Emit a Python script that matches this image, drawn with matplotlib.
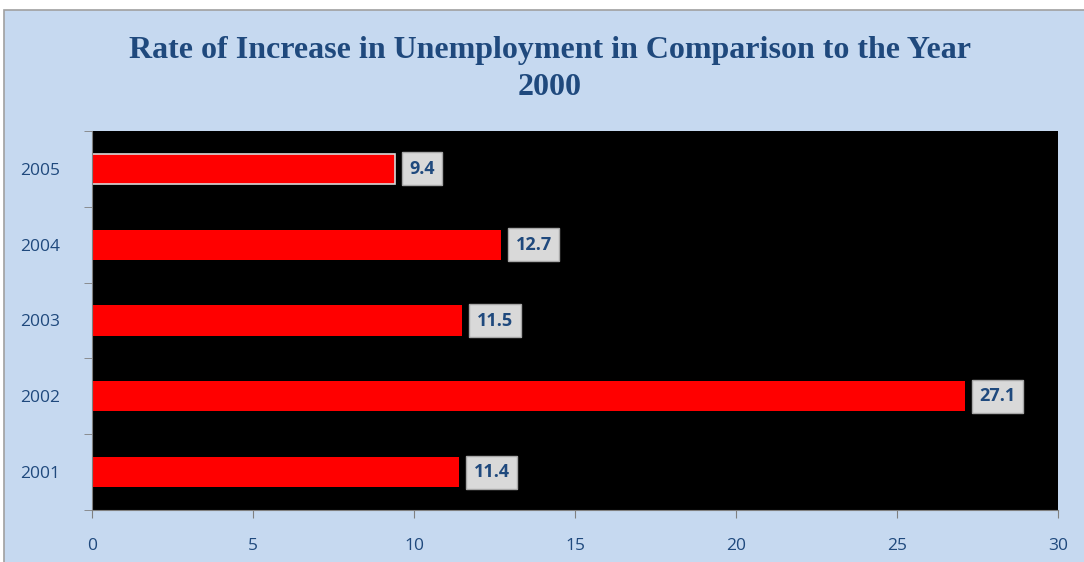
import matplotlib
matplotlib.use("Agg")
import matplotlib.pyplot as plt
from matplotlib.patches import Rectangle
import numpy as np

years = ["2001", "2002", "2003", "2004", "2005"]
values = [11.4, 27.1, 11.5, 12.7, 9.4]
xticks = [0, 5, 10, 15, 20, 25, 30]

W, H = 1084, 562
fig = plt.figure(figsize=(W / 100, H / 100), dpi=100, facecolor="white")
bg = Rectangle((4 / W, -0.01), 1.01, (H - 10) / H + 0.01, transform=fig.transFigure,
               facecolor="#C6D9F0", edgecolor="#A0A0A0", linewidth=1.2, zorder=-10)
fig.patches.append(bg)

ax = fig.add_axes([92 / W, 1 - 510 / H, (1058 - 92) / W, (510 - 131) / H])
ax.set_facecolor("black")
ypos = np.arange(len(years))
bars = ax.barh(ypos, values, height=0.4, color="#FF0000", zorder=2)
bars[-1].set_edgecolor("#D9D9D9")
bars[-1].set_linewidth(1.2)

ax.set_xlim(0, 30)
ax.set_ylim(-0.5, len(years) - 0.5)
ax.set_xticks(xticks)
ax.set_xticklabels([str(t) for t in xticks])
ax.set_yticks(ypos)
ax.set_yticklabels(years)
ax.set_yticks(np.arange(-0.5, len(years), 1.0), minor=True)

tcol = "#1F497D"
ax.tick_params(axis="y", which="major", length=0, pad=23, labelsize=12.5, labelcolor=tcol)
ax.tick_params(axis="y", which="minor", length=6, color="#808080", direction="out")
ax.tick_params(axis="x", which="major", length=6, color="#808080", direction="out",
               pad=14, labelsize=12.5, labelcolor=tcol)
for lab in ax.get_xticklabels() + ax.get_yticklabels():
    lab.set_family(["Open Sans", "DejaVu Sans"])
for side, sp in ax.spines.items():
    sp.set_color("#808080")
ax.spines["top"].set_visible(False)
ax.spines["right"].set_visible(False)

for y, v in zip(ypos, values):
    ax.annotate(f"{v}", xy=(v, y), xytext=(10.5, 0), textcoords="offset points",
                va="center", ha="left", fontsize=13, fontweight="bold", color=tcol,
                family=["Open Sans", "DejaVu Sans"],
                bbox=dict(boxstyle="square,pad=0.42", facecolor="#D9D9D9", edgecolor="#A6A6A6", linewidth=1))

fig.text(0.5 + 8 / W, 1 - 69 / H, "Rate of Increase in Unemployment in Comparison to the Year\n2000",
         ha="center", va="center", fontsize=23, fontweight="bold", color="#1F497D",
         family="Liberation Serif", linespacing=1.4)

fig.savefig("out.png", dpi=100, facecolor=fig.get_facecolor())
